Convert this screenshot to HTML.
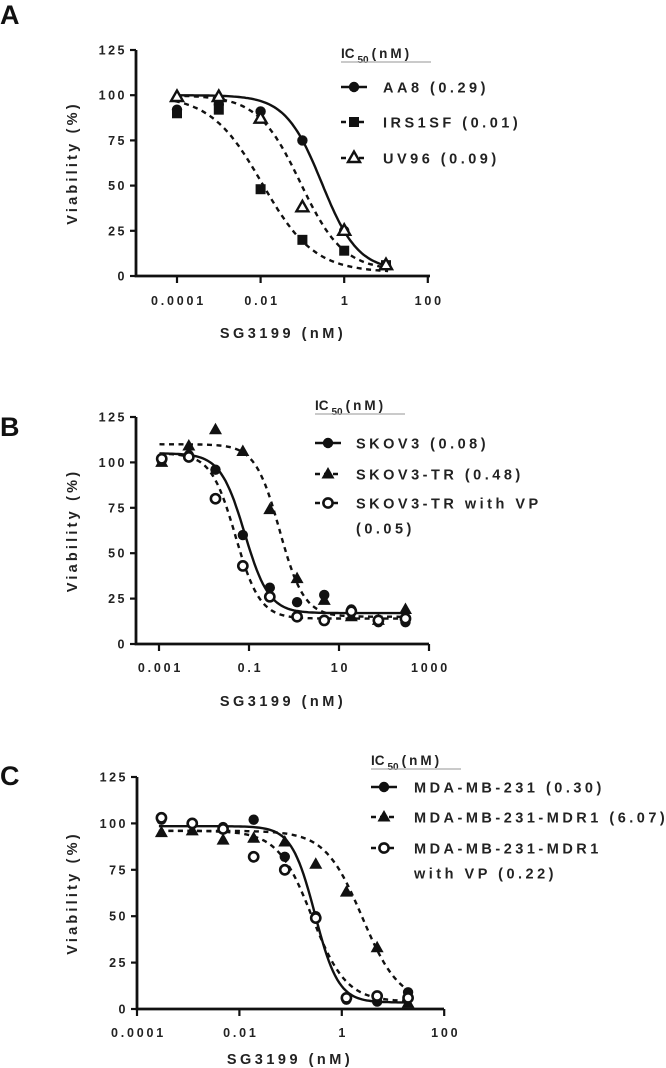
<!DOCTYPE html>
<html><head><meta charset="utf-8"><style>
html,body{margin:0;padding:0;background:#fff;}
svg{display:block;font-family:"Liberation Sans",sans-serif;font-weight:bold;}
</style></head><body>
<svg id="fig" width="666" height="1068" viewBox="0 0 666 1068"></svg>
<script>
// Panel A data
const aConc = [0.0001, 0.001, 0.01, 0.1, 1, 10];
const aAA8 = [92, 95, 91, 75, 25, 6];
const aIRS = [90, 92, 48, 20, 14, 6];
const aUV96 = [99, 99, 87, 38, 25, 6];
const aXTicks = [0.0001, 0.01, 1, 100];
const aXTickLabels = ["0.0001", "0.01", "1", "100"];
// Panel B data
const bConc = [0.00115, 0.0046, 0.018, 0.073, 0.29, 1.17, 4.7, 18.8, 75, 300];
const bSKOV3 = [101, 104, 96, 60, 31, 23, 27, 19, 12, 12];
const bTR = [100, 109, 118, 106, 74, 36, 24, 15, 13, 19];
const bVP = [102, 103, 80, 43, 26, 15, 13, 18, 13, 14];
const bXTicks = [0.001, 0.1, 10, 1000];
const bXTickLabels = ["0.001", "0.1", "10", "1000"];
// Panel C data
const cConc = [0.0003, 0.0012, 0.0048, 0.019, 0.077, 0.31, 1.23, 4.9, 19.7];
const cMDA = [102, 100, 98, 102, 82, 50, 5, 4, 9];
const cMDR = [95, 96, 91, 92, 90, 78, 63, 33, 3];
const cVP = [103, 100, 97, 82, 75, 49, 6, 7, 6];
const cXTicks = [0.0001, 0.01, 1, 100];
const cXTickLabels = ["0.0001", "0.01", "1", "100"];
const yTicks = [0, 25, 50, 75, 100, 125];

const NS = "http://www.w3.org/2000/svg";
const svg = document.getElementById("fig");
function mk(tag, attrs, parent) {
  const e = document.createElementNS(NS, tag);
  for (const k in attrs) e.setAttribute(k, attrs[k]);
  (parent || svg).appendChild(e);
  return e;
}
function txt(s, attrs, parent) { const t = mk("text", attrs, parent); t.textContent = s; return t; }

function marker(g, type, x, y) {
  let m;
  if (type === "circle") m = mk("circle", {cx: x, cy: y, r: 5.2, fill: "#111"}, g);
  else if (type === "ocircle") m = mk("circle", {cx: x, cy: y, r: 4.6, fill: "#fff", stroke: "#111", "stroke-width": 2.6}, g);
  else if (type === "square") m = mk("rect", {x: x - 5, y: y - 5, width: 10, height: 10, fill: "#111"}, g);
  else if (type === "triangle") m = mk("polygon", {points: `${x},${y-7} ${x-6.5},${y+4.5} ${x+6.5},${y+4.5}`, fill: "#111"}, g);
  else if (type === "otriangle") m = mk("polygon", {points: `${x},${y-6.5} ${x-6},${y+4} ${x+6},${y+4}`, fill: "#fff", stroke: "#111", "stroke-width": 2.4}, g);
  
  
  return m;
}

function panel(p) {
  const g = mk("g", {});
  
  
  const lx0 = Math.log10(p.xTicks[0]);
  const X = v => p.x0 + (Math.log10(v) - lx0) * p.dec;
  const Y = v => p.y0 - v * (p.y0 - p.y125) / 125;
  const pl = txt(p.label, {x: 0, y: p.labY, "font-size": 27, fill: "#111"}, g);
  
  
  const ax = mk("path", {d: `M${p.ax},${p.y125} V${p.y0} H${p.axEnd}`, stroke: "#111", "stroke-width": 2.8, fill: "none"}, g);
  
  
  yTicks.forEach(t => {
    mk("line", {x1: p.ax - 6, x2: p.ax, y1: Y(t), y2: Y(t), stroke: "#111", "stroke-width": 2.2}, g);
    const l = txt(String(t), {x: p.ax - 9, y: Y(t) + 4.5, "font-size": 12.5, "text-anchor": "end", "letter-spacing": 2.5, fill: "#222"}, g);
    
    
  });
  p.xTicks.forEach((t, i) => {
    mk("line", {x1: X(t), x2: X(t), y1: p.y0, y2: p.y0 + 7, stroke: "#111", "stroke-width": 2.2}, g);
    const l = txt(p.xTickLabels[i], {x: X(t) + 1.5, y: p.tickY, "font-size": 12.5, "text-anchor": "middle", "letter-spacing": 2.8, fill: "#222"}, g);
    
    
  });
  const xt = txt("SG3199 (nM)", {x: p.titleX, y: p.titleY, "font-size": 14.5, "text-anchor": "middle", "letter-spacing": 3.5, fill: "#222"}, g);
  
  
  const cy = (p.y0 + p.y125) / 2;
  const yt = txt("Viability (%)", {x: 77, y: cy, "font-size": 14.5, "text-anchor": "middle", "letter-spacing": 3.2, fill: "#222", transform: `rotate(-90 77 ${cy})`}, g);
  
  
  const xMin = Math.log10(p.conc[0]) - 0.05, xMax = Math.log10(p.conc[p.conc.length - 1]) + 0.05;
  p.series.forEach(s => {
    let d = "";
    for (let i = 0; i <= 120; i++) {
      const lx = xMin + (xMax - xMin) * i / 120;
      const v = s.bot + (s.top - s.bot) / (1 + Math.pow(10, (lx - Math.log10(s.ic)) * s.hill));
      d += (i ? "L" : "M") + (p.x0 + (lx - lx0) * p.dec).toFixed(1) + "," + Y(v).toFixed(1);
    }
    const c = mk("path", {d: d, fill: "none", stroke: "#111", "stroke-width": 2.4, "stroke-dasharray": s.dash ? "5,4.5" : "none"}, g);
    
    
    s.vals.forEach((v, i) => marker(g, s.marker, X(p.conc[i]), Y(v)));
  });
  const h = txt("", {x: p.legX, y: p.legY, "font-size": 13.5, fill: "#222"}, g);
  h.innerHTML = 'IC<tspan font-size="10" dx="3" dy="5">50</tspan><tspan dy="-5" dx="3" letter-spacing="3">(nM)</tspan>';
  
  
  mk("line", {x1: p.legX, x2: p.legX + 90, y1: p.legY + 4, y2: p.legY + 4, stroke: "#aaa", "stroke-width": 1.2}, g);
  p.series.forEach((s, i) => {
    const yy = p.legRows[i];
    mk("line", {x1: p.legX, x2: p.legX + 26, y1: yy, y2: yy, stroke: "#111", "stroke-width": 2.4, "stroke-dasharray": s.dash ? "5,4" : "none"}, g);
    marker(g, s.marker, p.legX + 13, yy);
    s.text.forEach((t, j) => {
      const e = txt(t, {x: p.legX + p.legText, y: yy + 5.5 + j * 25, "font-size": 14.5, "letter-spacing": 3.5, fill: "#222"}, g);
      
      
    });
  });
}

panel({label: "A", labY: 24, ax: 136, axEnd: 430, x0: 177, dec: 41.8, y0: 276, y125: 50, tickY: 305, titleX: 283, titleY: 338,
  xTicks: aXTicks, xTickLabels: aXTickLabels, conc: aConc, legX: 341, legY: 58, legRows: [87, 122, 158], legText: 42,
  series: [
    {key: "aa8", vals: aAA8, marker: "circle", dash: false, top: 100, bot: 3, ic: 0.29, hill: 1, text: ["AA8 (0.29)"]},
    {key: "irs1sf", vals: aIRS, marker: "square", dash: true, top: 100, bot: 2, ic: 0.011, hill: 0.7, text: ["IRS1SF (0.01)"]},
    {key: "uv96", vals: aUV96, marker: "otriangle", dash: true, top: 100, bot: 3, ic: 0.09, hill: 0.85, text: ["UV96 (0.09)"]}
  ]});
panel({label: "B", labY: 436, ax: 136, axEnd: 429, x0: 159, dec: 45, y0: 644, y125: 417, tickY: 672, titleX: 283, titleY: 706,
  xTicks: bXTicks, xTickLabels: bXTickLabels, conc: bConc, legX: 315, legY: 410, legRows: [443, 474, 503], legText: 41,
  series: [
    {key: "skov3", vals: bSKOV3, marker: "circle", dash: false, top: 105, bot: 17, ic: 0.08, hill: 1.6, text: ["SKOV3 (0.08)"]},
    {key: "skov3-tr", vals: bTR, marker: "triangle", dash: true, top: 110, bot: 15, ic: 0.48, hill: 1.6, text: ["SKOV3-TR (0.48)"]},
    {key: "skov3-tr-vp", vals: bVP, marker: "ocircle", dash: true, top: 105, bot: 14, ic: 0.05, hill: 1.6, text: ["SKOV3-TR  with VP", "(0.05)"]}
  ]});
panel({label: "C", labY: 785, ax: 137, axEnd: 444, x0: 137, dec: 51.2, y0: 1009, y125: 777, tickY: 1037, titleX: 290, titleY: 1064,
  xTicks: cXTicks, xTickLabels: cXTickLabels, conc: cConc, legX: 371, legY: 765, legRows: [787, 817, 848], legText: 43,
  series: [
    {key: "mda-mb-231", vals: cMDA, marker: "circle", dash: false, top: 98.5, bot: 3.5, ic: 0.30, hill: 1.9, text: ["MDA-MB-231 (0.30)"]},
    {key: "mda-mb-231-mdr1", vals: cMDR, marker: "triangle", dash: true, top: 96, bot: 3, ic: 2.5, hill: 1.2, text: ["MDA-MB-231-MDR1 (6.07)"]},
    {key: "mda-mb-231-mdr1-vp", vals: cVP, marker: "ocircle", dash: true, top: 96, bot: 4, ic: 0.26, hill: 1.3, text: ["MDA-MB-231-MDR1", "with VP (0.22)"]}
  ]});
</script>
</body></html>
